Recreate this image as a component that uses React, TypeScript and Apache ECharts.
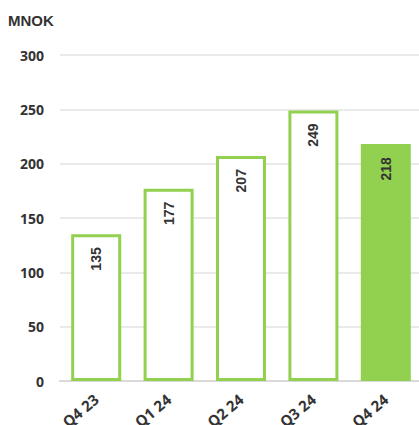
import React, { useEffect, useRef } from "react";
import * as echarts from "echarts";

const categories = ["Q4 23", "Q1 24", "Q2 24", "Q3 24", "Q4 24"];
const values = [135, 177, 207, 249, 218];
const highlighted = [false, false, false, false, true];
const unitLabel = "MNOK";

const GREEN = "#92d050";

export default function App() {
  const ref = useRef<HTMLDivElement>(null);
  useEffect(() => {
    if (!ref.current) return;
    const chart = echarts.init(ref.current, null, { renderer: "svg" });
    chart.setOption({
      animation: false,
      backgroundColor: "#ffffff",
      title: {
        text: unitLabel,
        left: 3,
        top: 8,
        textStyle: { fontSize: 15, fontWeight: "bold", color: "#333", fontFamily: "Liberation Sans, Arial, sans-serif" },
      },
      grid: { left: 60, right: -3, top: 55, bottom: 44, containLabel: false, outerBoundsMode: "none" },
      xAxis: {
        type: "category",
        data: categories,
        axisLine: { show: true, lineStyle: { color: "#d9d9d9", width: 2 } },
        axisTick: { show: false },
        axisLabel: {
          rotate: 40,
          margin: 16,
          fontSize: 15,
          fontWeight: "bold",
          color: "#333",
          fontFamily: "Open Sans, sans-serif",
          interval: 0,
        },
      },
      yAxis: {
        type: "value",
        min: 0,
        max: 300,
        interval: 50,
        axisLine: { show: false },
        axisTick: { show: false },
        splitLine: { lineStyle: { color: "#e3e3e3", width: 1.5 } },
        axisLabel: {
          margin: 16,
          fontSize: 14,
          fontWeight: "bold",
          color: "#333",
          fontFamily: "Open Sans, sans-serif",
        },
      },
      series: [
        {
          type: "bar",
          barWidth: 50,
          data: values.map((v, i) => ({
            value: v,
            itemStyle: highlighted[i]
              ? { color: GREEN, borderColor: GREEN, borderWidth: 3 }
              : { color: "#ffffff", borderColor: GREEN, borderWidth: 3 },
          })),
          label: {
            show: true,
            position: "insideTop",
            rotate: 90,
            align: "right",
            verticalAlign: "middle",
            distance: 13,
            fontSize: 14,
            fontWeight: "bold",
            color: "#333",
            fontFamily: "Liberation Sans, Arial, sans-serif",
          },
        },
      ],
    });
    return () => chart.dispose();
  }, []);
  return (
    <div
      ref={ref}
      style={{ position: "absolute", left: 0, top: 0, width: 419, height: 425 }}
    />
  );
}
